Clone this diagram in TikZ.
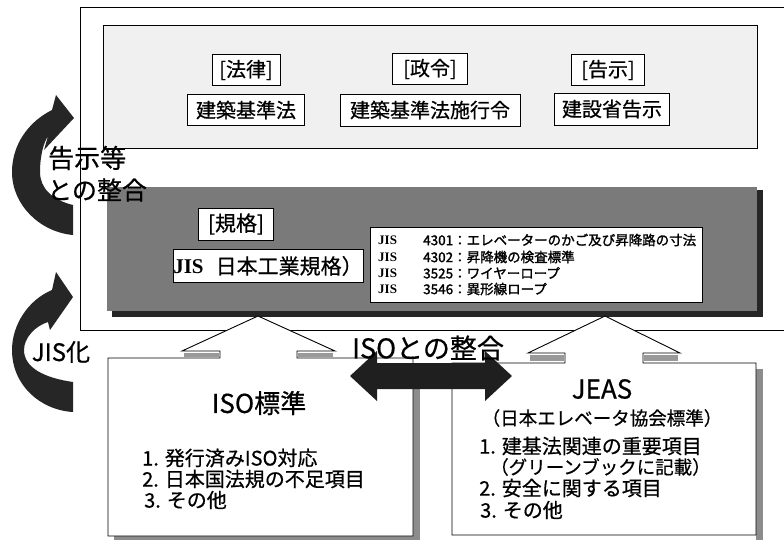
\documentclass[tikz,border=0pt]{standalone}
\usepackage{fontspec}
\setmainfont{Noto Sans CJK JP}[FakeBold=0.6]
\newfontfamily\heavyfont{Noto Sans CJK JP}[FakeBold=1.6]
\newfontfamily\tmsfont{Liberation Serif}
\newcommand\myfs[1]{\fontsize{#1pt}{#1pt}\selectfont}
\begin{document}
\begin{tikzpicture}[x=1pt,y=-1pt,
  lbl/.style={draw=black, fill=white, line width=0.8pt, inner sep=0pt, font=\myfs{20}},
  txt/.style={inner sep=0pt, font=\myfs{#1}},
  bigarrow/.style={fill=black!85},
  calloutbox/.style={draw=black, fill=white, line width=0.9pt, line join=miter}
]
\useasboundingbox (0,0) rectangle (784,539);
\clip (0,0) rectangle (784,539);
\fill[white] (0,0) rectangle (784,539);

% outer frame
\draw[line width=0.9pt] (795,7) -- (80,7) -- (80,330) -- (795,330);

% top box (laws)
\draw[fill=black!6, line width=0.7pt] (103,25) rectangle (757,148);
\node[lbl, minimum width=68, minimum height=31] (hl) at (246,70) {[法律]};
\node[lbl, minimum width=117, minimum height=31] (hlname) at (246,110) {建築基準法};
\node[lbl, minimum width=75, minimum height=31] (sr) at (430,69) {[政令]};
\node[lbl, minimum width=180, minimum height=32] (srname) at (430,110) {建築基準法施行令};
\node[lbl, minimum width=73, minimum height=31] (kj) at (608,70) {[告示]};
\node[lbl, minimum width=115, minimum height=32] (kjname) at (612,109) {建設省告示};

% dark box (standards)
\fill[black!85] (112,190) rectangle (763,317);
\fill[black!52] (107,187) rectangle (757,311);
\node[lbl, minimum width=75, minimum height=32, font=\myfs{21}] (kk) at (236,224) {[規格]};
\node[lbl, minimum width=190, minimum height=33, font=\myfs{21}] (jisname) at (268,266) {{\tmsfont\bfseries JIS}\hspace{12pt}日本工業規格）};
\node[draw=black, fill=white, line width=0.8pt, minimum width=332, minimum height=75, inner sep=0pt] (jislist) at (536,264.5) {};
\foreach \yy/\tt [count=\i] in {240/4301：エレベーターのかご及び昇降路の寸法, 257/4302：昇降機の検査標準, 273/3525：ワイヤーロープ, 289/3546：異形線ロープ}{
  \node[anchor=west, txt=13] (rowj\i) at (378,\yy) {\tmsfont\bfseries JIS};
  \node[anchor=west, txt=13.5] (rowt\i) at (423,\yy) {\heavyfont\tt};
}

% callout apexes
\coordinate (isoapex) at (258,316);
\coordinate (jeasapex) at (605,316);

% ISO callout
\fill[black!45] (413,364) rectangle (420,545);
\fill[black!45] (114,536) rectangle (420,545);
\fill[black!40] (184,353) rectangle (219,357);
\fill[black!40] (298,353) rectangle (333,357);
\filldraw[calloutbox] (108,358) -- (220,358) -- (220,351) -- (182,351) -- (isoapex) -- (335,351) -- (297,351) -- (297,358) -- (413,358) -- (413,536) -- (108,536) -- cycle;

% JEAS callout
\fill[black!45] (756,369) rectangle (763,545);
\fill[black!40] (530,355) rectangle (564,361);
\fill[black!40] (644,355) rectangle (678,361);
\filldraw[calloutbox] (452,363) -- (565,363) -- (565,353) -- (528,353) -- (jeasapex) -- (680,353) -- (643,353) -- (643,363) -- (756,363) -- (756,535) -- (452,535) -- cycle;

% ISO box text
\node[txt=26] (isotitle) at (259,403) {ISO標準};
\node[anchor=west, txt=20] (iso1) at (142,458) {1. 発行済みISO対応};
\node[anchor=west, txt=20] (iso2) at (142,479) {2. 日本国法規の不足項目};
\node[anchor=west, txt=20] (iso3) at (144,500) {3. その他};

% JEAS box text
\node[txt=26] (jeastitle) at (602,389) {JEAS};
\node[txt=18.5] (jeassub) at (602,418) {（日本エレベータ協会標準）};
\node[anchor=west, txt=20] (jeas1) at (479,446) {1. 建基法関連の重要項目};
\node[anchor=west, txt=18.5] (jeas1b) at (490,467) {（グリーンブックに記載）};
\node[anchor=west, txt=20] (jeas2) at (479,488) {2. 安全に関する項目};
\node[anchor=west, txt=20] (jeas3) at (480,510) {3. その他};

% double arrow
\fill[black!88] (350,376) -- (377,351) -- (377,363) -- (485,363) -- (485,351) -- (512,376) -- (485,401) -- (485,389) -- (377,389) -- (377,401) -- cycle;
\node[txt=27] (isoseigo) at (428,348) {ISOとの整合};

% left curved arrows
\path[bigarrow] (73,205) .. controls (52,200) and (40,188) .. (40,172)
  .. controls (40,155) and (44,142) .. (48,136) -- (44,150) -- (74,118) -- (56,95) -- (52,110)
  .. controls (28,122) and (12,145) .. (12,172)
  .. controls (12,205) and (40,232) .. (73,235) -- cycle;
\path[bigarrow] (73,382) .. controls (45,378) and (24,368) .. (24,350)
  .. controls (24,338) and (35,326) .. (48,322) -- (50,330) -- (73,297) -- (56,272) -- (52,290)
  .. controls (28,300) and (12,325) .. (12,350)
  .. controls (12,385) and (40,410) .. (73,412) -- cycle;

\node[anchor=west, txt=26] (kokuji) at (48,158) {告示等};
\node[anchor=west, txt=25] (seigo) at (47,190) {との整合};
\node[txt=24] (jiska) at (61,352) {JIS化};
\end{tikzpicture}
\end{document}
